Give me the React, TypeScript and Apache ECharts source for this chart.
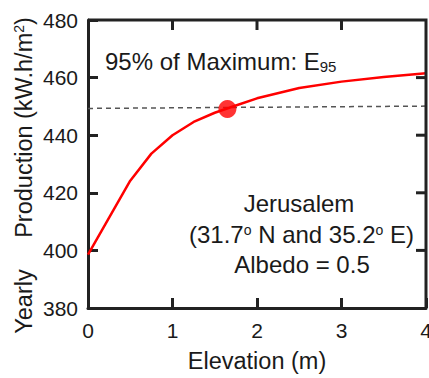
import React, { useEffect, useRef } from "react";
import * as echarts from "echarts";

const elevation = [0, 0.5, 0.75, 1.0, 1.25, 1.5, 1.75, 2.0, 2.5, 3.0, 3.5, 4.0];
const production = [398.5, 424.2, 433.6, 440.0, 444.6, 447.8, 450.3, 452.8, 456.4, 458.6, 460.2, 461.5];
const thresholdLine = [
  [0, 449.3],
  [4, 450.1],
];
const e95Point = [[1.65, 449.1]];
const xTicks = { min: 0, max: 4, interval: 1 };
const yTicks = { min: 380, max: 480, interval: 20 };
const xTickValues = [1, 2, 3];
const yTickValues = [400, 420, 440, 460];

const FONT = "Liberation Sans, Arial, sans-serif";
const AXIS = "#222222";
const TXT = "#1a1a1a";
const TICK_LEN = 10;

export default function App() {
  const ref = useRef<HTMLDivElement>(null);
  useEffect(() => {
    if (!ref.current) return;
    const chart = echarts.init(ref.current, null, { renderer: "svg" });
    chart.setOption({
      animation: false,
      backgroundColor: "#ffffff",
      grid: { left: 88, right: 3, top: 20, bottom: 70, outerBoundsMode: "none" },
      xAxis: [
        {
          type: "value",
          ...xTicks,
          axisLine: { show: true, lineStyle: { color: AXIS, width: 3 } },
          axisTick: { show: true, inside: true, length: TICK_LEN, lineStyle: { color: AXIS, width: 3 } },
          splitLine: { show: false },
          axisLabel: { fontSize: 21, color: TXT, fontFamily: FONT, margin: 12 },
        },
      ],
      yAxis: [
        {
          type: "value",
          ...yTicks,
          axisLine: { show: true, lineStyle: { color: AXIS, width: 3 } },
          axisTick: { show: true, inside: true, length: TICK_LEN, lineStyle: { color: AXIS, width: 3 } },
          splitLine: { show: false },
          axisLabel: { fontSize: 21, color: TXT, fontFamily: FONT, margin: 10 },
        },
      ],
      series: [
        {
          type: "custom",
          clip: false,
          z: 5,
          data: [[xTicks.max, yTicks.max]],
          renderItem: (params: any, api: any) => {
            const tl = api.coord([xTicks.min, yTicks.max]);
            const tr = api.coord([xTicks.max, yTicks.max]);
            const br = api.coord([xTicks.max, yTicks.min]);
            return {
              type: "polyline",
              shape: { points: [tl, tr, br] },
              style: { stroke: AXIS, lineWidth: 3, fill: "none" },
            };
          },
        },
        {
          type: "custom",
          clip: false,
          z: 5,
          data: yTickValues.map((v) => [xTicks.max, v]),
          renderItem: (params: any, api: any) => {
            const r = api.coord([xTicks.max, api.value(1)]);
            return {
              type: "line",
              shape: { x1: r[0], y1: r[1], x2: r[0] - TICK_LEN, y2: r[1] },
              style: { stroke: AXIS, lineWidth: 3 },
            };
          },
        },
        {
          type: "custom",
          clip: false,
          z: 5,
          data: xTickValues.map((v) => [v, yTicks.max]),
          renderItem: (params: any, api: any) => {
            const t = api.coord([api.value(0), yTicks.max]);
            return {
              type: "line",
              shape: { x1: t[0], y1: t[1], x2: t[0], y2: t[1] + TICK_LEN },
              style: { stroke: AXIS, lineWidth: 3 },
            };
          },
        },
        {
          type: "line",
          data: thresholdLine,
          symbol: "none",
          lineStyle: { color: "#555555", width: 1.5, type: [5, 4] },
          z: 2,
        },
        {
          type: "line",
          data: elevation.map((x, i) => [x, production[i]]),
          symbol: "none",
          lineStyle: { color: "#ff0000", width: 2.5 },
          z: 3,
        },
        {
          type: "scatter",
          data: e95Point,
          symbolSize: 18,
          itemStyle: { color: "#ff0000" },
          z: 4,
        },
      ],
      graphic: [
        {
          type: "text",
          x: 105,
          y: 61.5,
          style: {
            text: "{m|95% of Maximum: E}{s|95}",
            verticalAlign: "middle",
            align: "left",
            fill: TXT,
            rich: {
              m: { fontSize: 24, fontFamily: FONT, fill: TXT },
              s: { fontSize: 15, fontFamily: FONT, fill: TXT, verticalAlign: "bottom" },
            },
          },
        },
        {
          type: "text",
          x: 299,
          y: 203.5,
          style: { text: "Jerusalem", font: `24px ${FONT}`, fill: TXT, align: "center", verticalAlign: "middle" },
        },
        {
          type: "text",
          x: 301.5,
          y: 234.5,
          style: {
            text: "{m|(31.7}{s|o}{m| N and 35.2}{s|o}{m| E)}",
            align: "center",
            verticalAlign: "middle",
            fill: TXT,
            rich: {
              m: { fontSize: 24, fontFamily: FONT, fill: TXT },
              s: { fontSize: 14, fontFamily: FONT, fill: TXT, verticalAlign: "top" },
            },
          },
        },
        {
          type: "text",
          x: 302,
          y: 264.5,
          style: { text: "Albedo = 0.5", font: `24px ${FONT}`, fill: TXT, align: "center", verticalAlign: "middle" },
        },
        {
          type: "text",
          x: 257,
          y: 361,
          style: { text: "Elevation (m)", font: `23.5px ${FONT}`, fill: TXT, align: "center", verticalAlign: "middle" },
        },
        {
          type: "text",
          x: 24,
          y: 301.5,
          rotation: Math.PI / 2,
          style: { text: "Yearly", font: `23.5px ${FONT}`, fill: TXT, align: "center", verticalAlign: "middle" },
        },
        {
          type: "text",
          x: 24,
          y: 127.5,
          rotation: Math.PI / 2,
          style: {
            text: "{m|Production (kW.h/m}{s|2}{m|)}",
            align: "center",
            verticalAlign: "middle",
            fill: TXT,
            rich: {
              m: { fontSize: 23.5, fontFamily: FONT, fill: TXT },
              s: { fontSize: 14, fontFamily: FONT, fill: TXT, verticalAlign: "top" },
            },
          },
        },
      ],
    });
    return () => chart.dispose();
  }, []);
  return <div ref={ref} style={{ position: "fixed", left: 0, top: 0, width: 429, height: 378 }} />;
}
